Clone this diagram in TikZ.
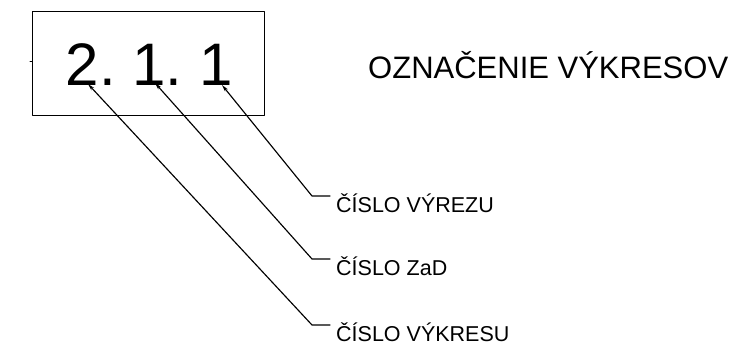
\documentclass[tikz,border=0pt]{standalone}
\usepackage{fontspec}
\setmainfont{Liberation Sans}
\usetikzlibrary{arrows.meta}

\begin{document}
\begin{tikzpicture}[x=1pt, y=-1pt, line cap=round, line join=round,
    odkaz/.style={line width=1.15pt, {Stealth[length=7pt, width=3.5pt]}-},
    popis/.style={anchor=base west, inner xsep=6pt, inner ysep=0pt, font=\fontsize{21.5}{24}\selectfont}]
    \useasboundingbox (0,0) rectangle (747,361);

    % 枠と番号
    \draw[line width=0.8pt] (32,11) rectangle (264,115);
    \draw[line width=1pt] (30,62) -- (32,62);
    \node[anchor=base west, inner sep=0pt, font=\fontsize{60}{66}\selectfont] (cislo) at (65.5,85) {\frenchspacing 2. 1. 1};

    % 見出し
    \node[anchor=base west, inner sep=0pt, font=\fontsize{31}{36}\selectfont] (nadpis) at (368,78) {OZNAČENIE VÝKRESOV};

    % 矢印の先端と折れ点
    \coordinate (hrot1) at (88,84);
    \coordinate (hrot2) at (155,83);
    \coordinate (hrot3) at (222,85);
    \coordinate (zlom1) at (312,325);
    \coordinate (zlom2) at (312,259);
    \coordinate (zlom3) at (312,196);

    % ラベル
    \node[popis] (vykres) at (330,341) {ČÍSLO VÝKRESU};
    \node[popis] (zad) at (330,275) {ČÍSLO ZaD};
    \node[popis] (vyrez) at (330,212) {ČÍSLO VÝREZU};

    % 引出線
    \draw[odkaz] (hrot1) -- (zlom1) -- (zlom1 -| vykres.west);
    \draw[odkaz] (hrot2) -- (zlom2) -- (zlom2 -| zad.west);
    \draw[odkaz] (hrot3) -- (zlom3) -- (zlom3 -| vyrez.west);
\end{tikzpicture}
\end{document}
